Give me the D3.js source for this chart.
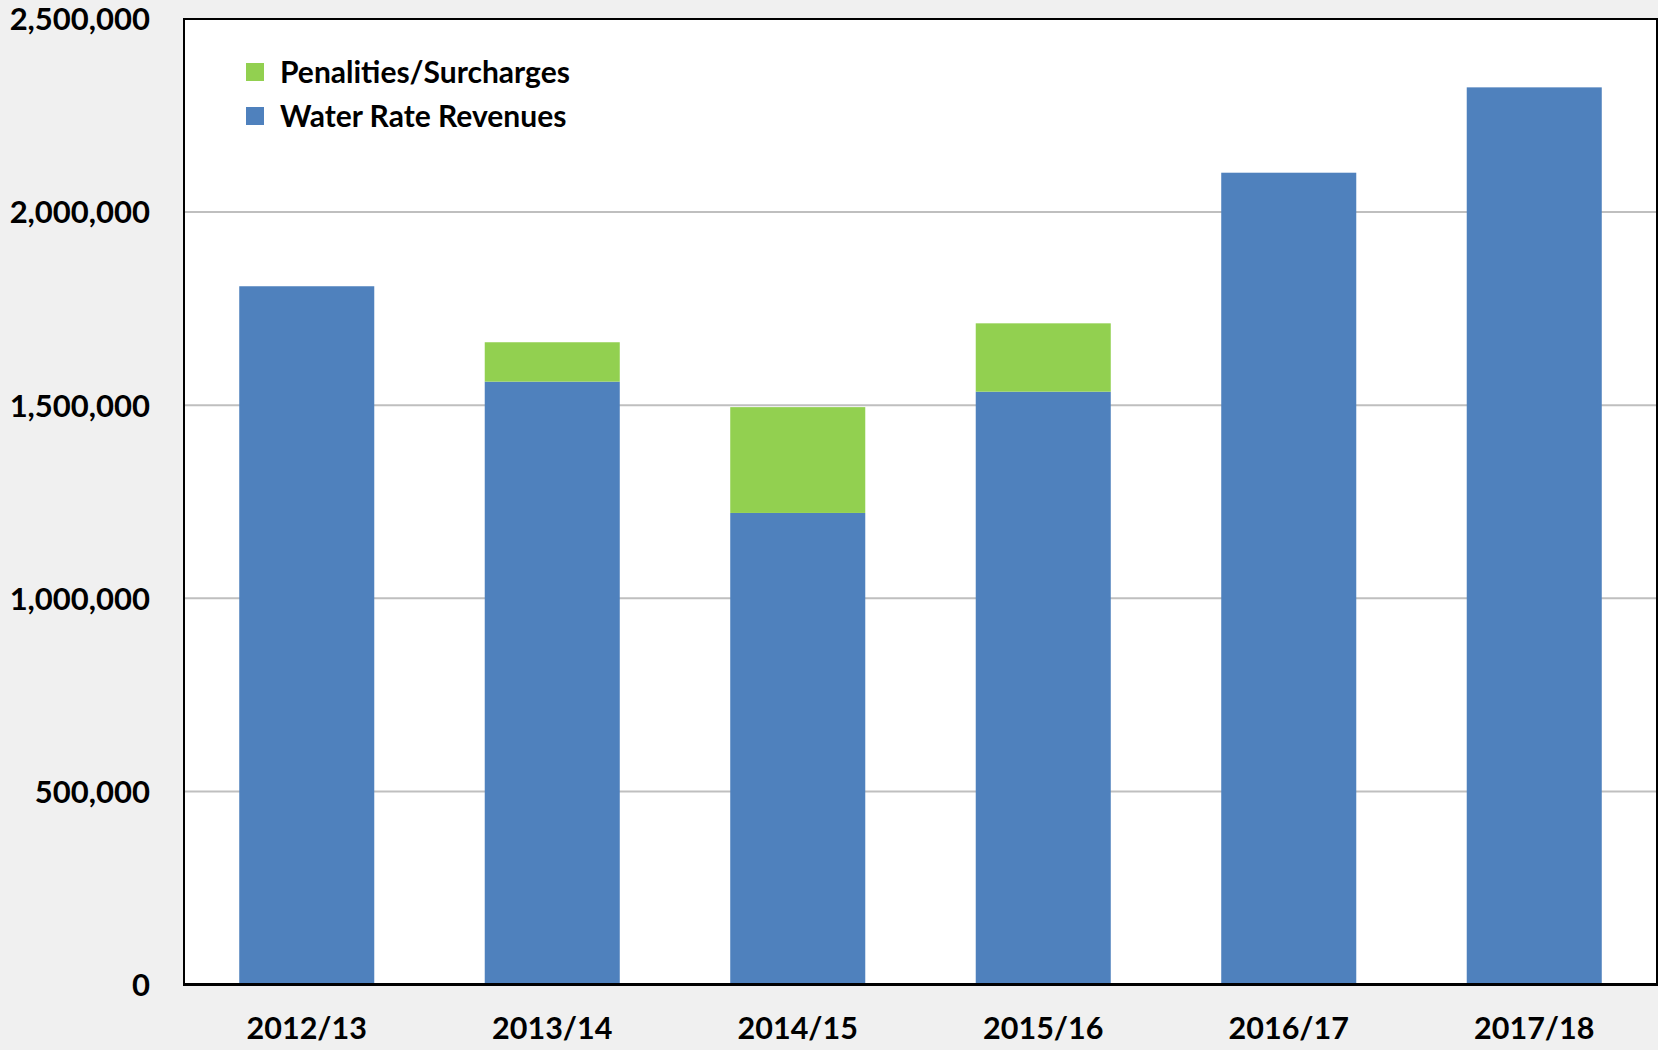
<!DOCTYPE html>
<html>
<head>
<meta charset="utf-8">
<script src="https://cdn.jsdelivr.net/npm/d3@7"></script>
<style>
    body { margin: 0; background: #f0f0f0; }
    svg { display: block; }
    text { font-family: Lato, "Open Sans", sans-serif; font-weight: bold; fill: #000; }
</style>
</head>
<body>
<div id="chart"></div>
<script>
var years = ["2012/13", "2013/14", "2014/15", "2015/16", "2016/17", "2017/18"];
var waterRevenues = [1808000, 1561000, 1221000, 1535000, 2102000, 2323000];
var penalties = [0, 102000, 274000, 177000, 0, 0];
var yTicks = [0, 500000, 1000000, 1500000, 2000000, 2500000];
var seriesNames = ["Water Rate Revenues", "Penalities/Surcharges"];
var seriesColors = ["#4f81bd", "#92d050"];

function drawChart() {
    var width = 1658, height = 1050;
    var margin = { top: 19, right: 1, bottom: 65.5, left: 184 };
    var innerW = width - margin.left - margin.right;
    var innerH = height - margin.top - margin.bottom;

    var rows = years.map(function (y, i) {
        return { year: y, water: waterRevenues[i], penalty: penalties[i] };
    });
    var stacked = d3.stack().keys(["water", "penalty"])(rows);

    var x = d3.scaleBand().domain(years).range([0, innerW])
        .paddingInner(0.45).paddingOuter(0.225);
    var y = d3.scaleLinear().domain([0, d3.max(yTicks)]).range([innerH, 0]);
    var colors = d3.scaleOrdinal().domain(["water", "penalty"]).range(seriesColors);

    var svg = d3.select("#chart").append("svg")
        .attr("width", width).attr("height", height);
    svg.append("rect").attr("width", width).attr("height", height).attr("fill", "#f0f0f0");

    var g = svg.append("g").attr("transform", "translate(" + margin.left + "," + margin.top + ")");
    g.append("rect").attr("width", innerW).attr("height", innerH).attr("fill", "#fff");

    // gridlines
    g.append("g").selectAll("line").data(yTicks.filter(function (d) { return d > 0; }))
        .enter().append("line")
        .attr("x1", 0).attr("x2", innerW)
        .attr("y1", function (d) { return y(d); }).attr("y2", function (d) { return y(d); })
        .attr("stroke", "#bfbfbf").attr("stroke-width", 2);

    // bars
    var layers = g.append("g").selectAll("g").data(stacked).enter().append("g")
        .attr("fill", function (d) { return colors(d.key); });
    layers.selectAll("rect").data(function (d) { return d; }).enter()
        .filter(function (d) { return d[1] - d[0] > 0; })
        .append("rect")
        .attr("x", function (d) { return x(d.data.year); })
        .attr("width", x.bandwidth())
        .attr("y", function (d) { return y(d[1]); })
        .attr("height", function (d) { return y(d[0]) - y(d[1]); });

    // frame
    g.append("path")
        .attr("d", "M0," + innerH + "V0H" + innerW + "V" + innerH)
        .attr("fill", "none").attr("stroke", "#000").attr("stroke-width", 2);
    g.append("line").attr("x1", -1).attr("x2", innerW + 1)
        .attr("y1", innerH).attr("y2", innerH)
        .attr("stroke", "#000").attr("stroke-width", 3);

    // y axis labels
    var yAxis = d3.axisLeft(y).tickValues(yTicks).tickSize(0).tickPadding(34)
        .tickFormat(d3.format(","));
    g.append("g").call(yAxis)
        .call(function (a) { a.select(".domain").remove(); })
        .selectAll("text").style("font-size", "31px").attr("dy", "0.35em");

    // x axis labels
    var xAxis = d3.axisBottom(x).tickSize(0).tickPadding(33);
    g.append("g").attr("transform", "translate(0," + innerH + ")").call(xAxis)
        .call(function (a) { a.select(".domain").remove(); })
        .selectAll("text").style("font-size", "30.5px");

    // legend
    var legendItems = [
        { key: "penalty", label: seriesNames[1] },
        { key: "water", label: seriesNames[0] }
    ];
    var legend = svg.append("g").attr("transform", "translate(246,63)")
        .selectAll(".legends").data(legendItems).enter().append("g")
        .classed("legends", true)
        .attr("transform", function (d, i) { return "translate(0," + i * 44 + ")"; });
    legend.append("rect")
        .attr("width", 18).attr("height", 18)
        .attr("fill", function (d) { return colors(d.key); });
    legend.append("text")
        .text(function (d) { return d.label; })
        .attr("x", 34).attr("y", 9).attr("dy", "0.35em")
        .style("font-size", "30px");
}

drawChart();
</script>
</body>
</html>
